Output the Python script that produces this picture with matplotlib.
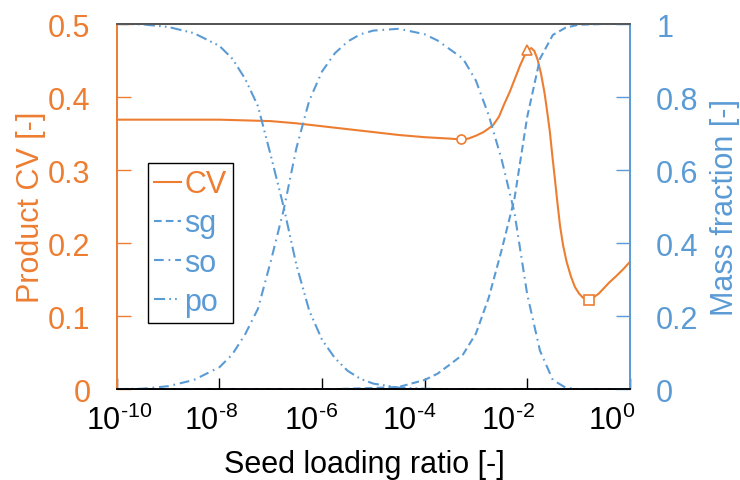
import numpy as np
import matplotlib
matplotlib.use('Agg')
import matplotlib.pyplot as plt
from matplotlib.ticker import FuncFormatter, NullLocator
from matplotlib.transforms import ScaledTranslation

plt.rcParams['font.family'] = ['Liberation Sans', 'DejaVu Sans']
plt.rcParams['mathtext.fontset'] = 'custom'
plt.rcParams['mathtext.rm'] = 'Liberation Sans'
plt.rcParams['mathtext.it'] = 'Liberation Sans:italic'
plt.rcParams['mathtext.bf'] = 'Liberation Sans:bold'
plt.rcParams['lines.scale_dashes'] = False

orange = '#ED7D31'
blue = '#5B9BD5'

# product CV vs seed loading ratio (log10 of ratio)
cv_log = [-10, -9, -8, -7.5, -7, -6.5, -6, -5.5, -5, -4.5, -4, -3.5, -3.3, -3.15,
          -3.0, -2.85, -2.67, -2.55, -2.45, -2.34, -2.24, -2.14, -2.05, -1.98,
          -1.92, -1.86, -1.80, -1.73, -1.66, -1.61, -1.56, -1.51, -1.46, -1.41,
          -1.36, -1.30, -1.23, -1.15, -1.07, -0.99, -0.91, -0.85, -0.79, -0.70,
          -0.6, -0.52, -0.4, -0.26, -0.13, 0]
cv = [0.369, 0.369, 0.369, 0.368, 0.367, 0.364, 0.360, 0.356, 0.352, 0.348,
      0.345, 0.343, 0.342, 0.343, 0.347, 0.352, 0.361, 0.373, 0.390, 0.407,
      0.425, 0.443, 0.457, 0.465, 0.467, 0.463, 0.452, 0.432, 0.405, 0.380,
      0.354, 0.320, 0.288, 0.255, 0.224, 0.197, 0.174, 0.155, 0.140, 0.131,
      0.125, 0.123, 0.122, 0.126, 0.131, 0.137, 0.146, 0.155, 0.164, 0.174]

# highlighted CV points
mark_log = [-3.3, -2.0, -0.79]
mark_cv = [0.342, 0.464, 0.122]
mark_sym = ['o', '^', 's']

# mass fractions
mf_log = [-10, -9.5, -9, -8.5, -8, -7.75, -7.5, -7.25, -7, -6.75, -6.5, -6.25,
          -6, -5.75, -5.5, -5.25, -5, -4.5, -4, -3.75, -3.5, -3.25, -3, -2.75,
          -2.5, -2.25, -2, -1.75, -1.5, -1.25, -1, -0.5, 0]
sg = [0, 0, 0, 0, 0, 0, 0, 0, 0, 0, 0, 0,
      0, 0, 0.001, 0.002, 0.003, 0.006, 0.025, 0.042, 0.068, 0.095, 0.152, 0.25,
      0.38, 0.52, 0.745, 0.905, 0.97, 0.99, 0.998, 1.0, 1.0]
so = [0, 0.001, 0.008, 0.025, 0.06, 0.095, 0.15, 0.22, 0.35, 0.49, 0.66, 0.79,
      0.87, 0.92, 0.952, 0.972, 0.982, 0.987, 0.972, 0.955, 0.93, 0.905, 0.845, 0.75,
      0.63, 0.485, 0.26, 0.105, 0.025, 0.004, 0, 0, 0]
po = [1.0, 0.999, 0.992, 0.975, 0.94, 0.905, 0.85, 0.775, 0.64, 0.50, 0.34, 0.215,
      0.135, 0.085, 0.05, 0.028, 0.015, 0.004, 0.001, 0, 0, 0, 0, 0,
      0, 0, 0, 0, 0, 0, 0, 0, 0]

xticks = [1e-10, 1e-8, 1e-6, 1e-4, 1e-2, 1e0]
xticklabels = ['10$^{\u201010}$', '10$^{\u20108}$', '10$^{\u20106}$',
               '10$^{\u20104}$', '10$^{\u20102}$', '10$^{0}$']
# horizontal nudge of each x tick label, in pixels
xlabel_shift = [2, -8, -11, -15, -19, -18]

fig = plt.figure(figsize=(7.4, 4.81), dpi=100)
ax = fig.add_axes([0.158, 0.189, 0.693, 0.759])
ax2 = ax.twinx()

x_cv = 10.0 ** np.array(cv_log)
x_mf = 10.0 ** np.array(mf_log)

l_cv, = ax.plot(x_cv, cv, color=orange, lw=1.5, label='CV')
for lg, v, m in zip(mark_log, mark_cv, mark_sym):
    ax.plot(10.0 ** lg, v, ls='none', marker=m, ms=6.5, mfc='white',
            mec=orange, mew=1.2, zorder=5)

l_sg, = ax2.plot(x_mf, sg, color=blue, lw=1.5, ls=(0, (5.5, 3)), label='sg')
l_so, = ax2.plot(x_mf, so, color=blue, lw=1.5, ls=(0, (7, 3.5, 1.2, 3.5)), label='so')
l_po, = ax2.plot(x_mf, po, color=blue, lw=1.5, ls=(0, (8, 3, 1.2, 3, 1.2, 3)), label='po')

ax.set_xscale('log')
ax.set_xlim(1e-10, 1)
ax.set_ylim(0, 0.5)
ax2.set_ylim(0, 1)

ax.set_xticks(xticks)
ax.set_xticklabels(xticklabels)
ax.xaxis.set_minor_locator(NullLocator())
ax.set_yticks([0, 0.1, 0.2, 0.3, 0.4, 0.5])
ax2.set_yticks([0, 0.2, 0.4, 0.6, 0.8, 1.0])
fmt = FuncFormatter(lambda v, _: f'{v:g}')
ax.yaxis.set_major_formatter(fmt)
ax2.yaxis.set_major_formatter(fmt)

ax.tick_params(axis='x', direction='in', length=8, width=1, pad=11,
               labelsize=22, colors='black')
ax.tick_params(axis='y', direction='in', length=10, width=1, pad=19,
               labelsize=22, colors=orange)
ax2.tick_params(axis='y', direction='in', length=10, width=1, pad=19,
                labelsize=22, colors=blue)

for lab, dx in zip(ax.get_xticklabels(), xlabel_shift):
    lab.set_transform(lab.get_transform() + ScaledTranslation(dx / 100, 0, fig.dpi_scale_trans))

for a in (ax, ax2):
    a.spines['left'].set_color(orange)
    a.spines['right'].set_color(blue)
    a.spines['top'].set_color('#555555')
    a.spines['bottom'].set_color('black')
    for s in a.spines.values():
        s.set_linewidth(1.3)

ax.set_xlabel('Seed loading ratio [-]', fontsize=22)
ax.set_ylabel('Product CV [-]', fontsize=22, color=orange)
ax2.set_ylabel('Mass fraction [-]', fontsize=22, color=blue)
ax.xaxis.set_label_coords(0.483, -0.165)
ax.yaxis.set_label_coords(-0.138, 0.5)
ax2.yaxis.set_label_coords(1.156, 0.5)

leg = ax2.legend([l_cv, l_sg, l_so, l_po], ['CV', 'sg', 'so', 'po'],
                 loc='upper left', bbox_to_anchor=(0.06, 0.619), borderaxespad=0,
                 fontsize=22, handlelength=0.9, handletextpad=0.1,
                 labelspacing=0.3, borderpad=0.2, fancybox=False,
                 edgecolor='black', framealpha=1, labelcolor='linecolor')
leg.get_frame().set_linewidth(1.0)

fig.savefig('out.png', dpi=100)
